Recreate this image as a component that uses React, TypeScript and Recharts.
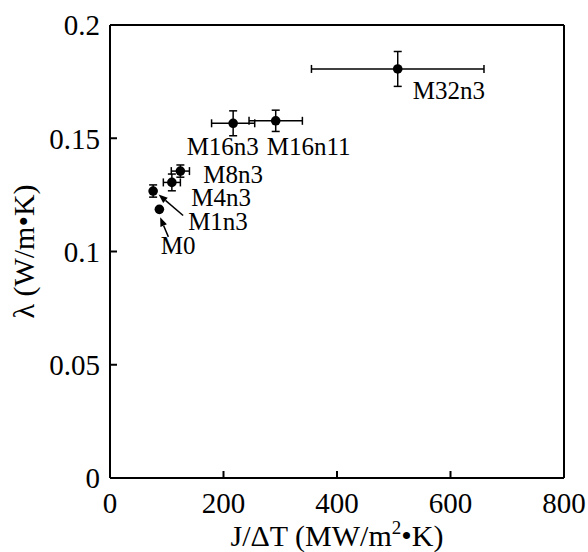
import React from 'react';
import { ScatterChart, Scatter, XAxis, YAxis, ErrorBar, Label } from 'recharts';

const names = ['M0', 'M1n3', 'M4n3', 'M8n3', 'M16n3', 'M16n11', 'M32n3'];
const jdt = [87, 76, 109, 124, 217, 292, 507];
const lambda = [0.1186, 0.1267, 0.1305, 0.1355, 0.1566, 0.1577, 0.1806];
const jdtErr = [0, 0, 15, 16, 38, 47, 152];
const lambdaErr = [0, 0.0027, 0.0037, 0.0027, 0.0055, 0.0047, 0.0077];

const xTicks = [0, 200, 400, 600, 800];
const yTicks = [0, 0.05, 0.1, 0.15, 0.2];

const data = names.map((name, i) => ({
  name,
  x: jdt[i],
  y: lambda[i],
  ex: jdtErr[i],
  ey: lambdaErr[i],
}));

const FONT = "'Liberation Serif', 'Times New Roman', serif";
const TICK_FS = 29;
const TITLE_FS = 30;
const LABEL_FS = 25;

// label placement relative to the point (pixels): text left x, baseline y, optional arrow
const labelOffsets: Record<string, { dx: number; dy: number; arrow?: [number, number, number, number] }> = {
  M32n3: { dx: 15, dy: 30 },
  M16n3: { dx: -46.5, dy: 32 },
  M16n11: { dx: -9, dy: 34 },
  M8n3: { dx: 23, dy: 12 },
  M4n3: { dx: 19.5, dy: 23.5 },
  M1n3: { dx: 35, dy: 39, arrow: [30, 24.5, 5.5, 3.5] },
  M0: { dx: 1.5, dy: 45, arrow: [9, 27.5, 0.8, 8] },
};

function Arrow({ x1, y1, x2, y2 }: { x1: number; y1: number; x2: number; y2: number }) {
  const ang = Math.atan2(y2 - y1, x2 - x1);
  const len = 9;
  const w = 3.5;
  const bx = x2 - len * Math.cos(ang);
  const by = y2 - len * Math.sin(ang);
  const px = -Math.sin(ang) * w;
  const py = Math.cos(ang) * w;
  return (
    <g>
      <line x1={x1} y1={y1} x2={bx} y2={by} stroke="#000" strokeWidth={1.5} />
      <polygon points={`${x2},${y2} ${bx + px},${by + py} ${bx - px},${by - py}`} fill="#000" />
    </g>
  );
}

function Dot(props: any) {
  const { cx, cy, payload } = props;
  if (cx == null || cy == null) return null;
  const o = labelOffsets[payload.name];
  return (
    <g>
      <circle cx={cx} cy={cy} r={4.8} fill="#000" />
      {o && (
        <text x={cx + o.dx} y={cy + o.dy} fontFamily={FONT} fontSize={LABEL_FS} fill="#000">
          {payload.name}
        </text>
      )}
      {o && o.arrow && (
        <Arrow x1={cx + o.arrow[0]} y1={cy + o.arrow[1]} x2={cx + o.arrow[2]} y2={cy + o.arrow[3]} />
      )}
    </g>
  );
}

function XTitle(props: any) {
  const vb = props.viewBox || {};
  const x = vb.x + vb.width / 2;
  const y = vb.y + 68;
  return (
    <text x={x} y={y} textAnchor="middle" fontFamily={FONT} fontSize={TITLE_FS} fill="#000">
      <tspan>J/ΔT (MW/m</tspan>
      <tspan dy={-12} fontSize={19}>2</tspan>
      <tspan dy={12}>•K)</tspan>
    </text>
  );
}

function YTitle(props: any) {
  const vb = props.viewBox || {};
  const cy = vb.y + vb.height / 2;
  const bx = 34;
  return (
    <text
      x={bx}
      y={cy}
      transform={`rotate(-90, ${bx}, ${cy})`}
      textAnchor="middle"
      fontFamily={FONT}
      fontSize={TITLE_FS}
      fill="#000"
    >
      λ (W/m•K)
    </text>
  );
}

const axisLine = { stroke: '#000', strokeWidth: 2 };
const tickLine = { stroke: '#000', strokeWidth: 2 };
const tickStyle = { fontSize: TICK_FS, fill: '#000', fontFamily: FONT };

export default function App() {
  return (
    <div style={{ position: 'absolute', left: 0, top: 0, width: 588, height: 552, background: '#fff' }}>
      <ScatterChart width={588} height={552} margin={{ top: 0, right: 0, bottom: 0, left: 0 }}>
        <XAxis
          xAxisId={0}
          type="number"
          dataKey="x"
          domain={[0, 800]}
          ticks={xTicks}
          height={74}
          tickSize={-7}
          tickMargin={21}
          axisLine={axisLine}
          tickLine={tickLine}
          tick={tickStyle}
          interval={0}
        >
          <Label content={XTitle} />
        </XAxis>
        <XAxis
          xAxisId="top"
          orientation="top"
          type="number"
          domain={[0, 800]}
          ticks={xTicks}
          height={25}
          tickSize={-7}
          axisLine={axisLine}
          tickLine={tickLine}
          tick={false}
          interval={0}
        />
        <YAxis
          yAxisId={0}
          type="number"
          dataKey="y"
          domain={[0, 0.2]}
          ticks={yTicks}
          width={110}
          tickSize={-7}
          tickMargin={17}
          axisLine={axisLine}
          tickLine={tickLine}
          tick={tickStyle}
          tickFormatter={(v: number) => String(v)}
          interval={0}
        >
          <Label content={YTitle} />
        </YAxis>
        <YAxis
          yAxisId="right"
          orientation="right"
          type="number"
          domain={[0, 0.2]}
          ticks={yTicks}
          width={24}
          tickSize={-7}
          axisLine={axisLine}
          tickLine={tickLine}
          tick={false}
          interval={0}
        />
        <Scatter data={data} xAxisId={0} yAxisId={0} isAnimationActive={false} shape={<Dot />}>
          <ErrorBar dataKey="ex" direction="x" width={4} stroke="#000" strokeWidth={1.5} isAnimationActive={false} />
          <ErrorBar dataKey="ey" direction="y" width={4} stroke="#000" strokeWidth={1.5} isAnimationActive={false} />
        </Scatter>
      </ScatterChart>
    </div>
  );
}
